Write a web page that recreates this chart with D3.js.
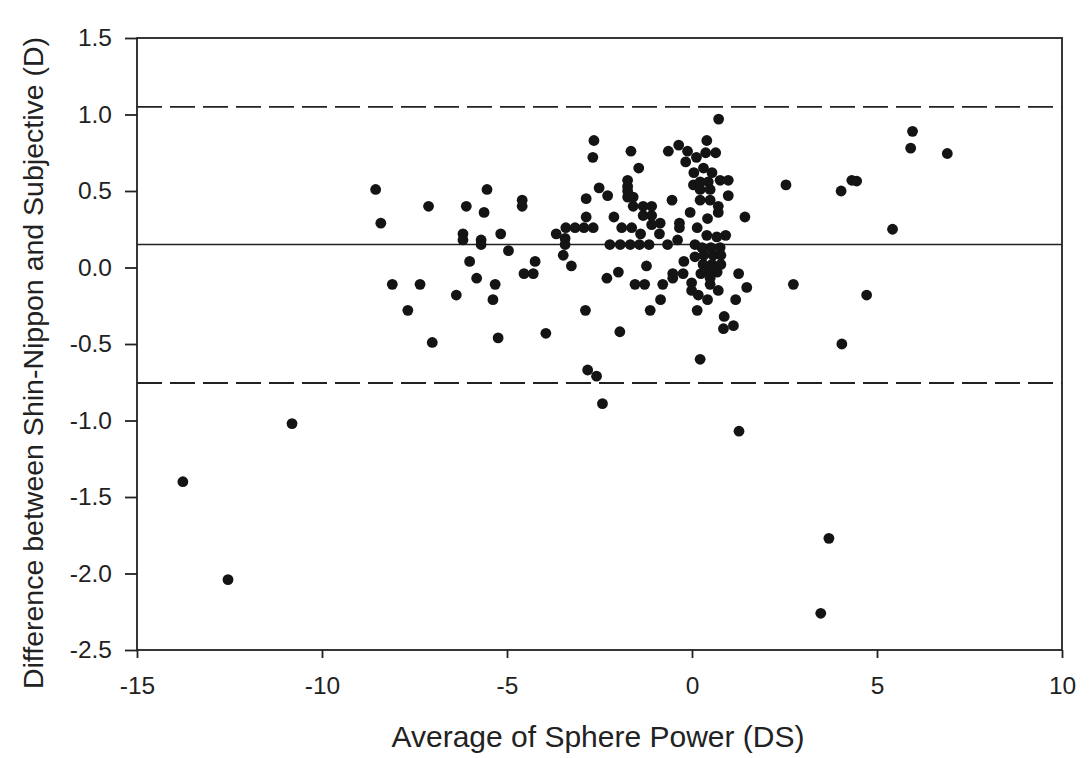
<!DOCTYPE html>
<html>
<head>
<meta charset="utf-8">
<script src="https://cdn.jsdelivr.net/npm/d3@7"></script>
<style>
  body { margin: 0; background: #fff; }
  svg text { font-family: "Liberation Sans", Arial, sans-serif; fill: #222; }
</style>
</head>
<body>
<div id="chart"></div>
<script>
// DATA
var avgSphere = [
  -13.76,-12.54,-10.81,
  -8.55,-8.41,-8.10,-7.35,-7.68,-7.12,-7.02,-6.37,-6.10,-6.19,
  -6.19,-6.01,-5.82,-5.54,-5.62,-5.70,-5.70,-5.32,-5.38,-5.24,
  -5.17,-4.96,-4.59,-4.59,-4.54,-4.29,-4.24,-3.95,-3.67,-3.41,
  -3.16,-2.92,-2.67,-3.43,-3.43,-3.48,-3.26,-2.86,-2.86,-2.88,
  -2.82,-2.58,-2.42,
  -2.65,-2.68,-2.51,-2.28,-2.11,-1.90,-2.22,-1.94,-1.99,-2.30,-1.95,
  -1.65,-0.64,-0.36,-0.12,0.12,-0.17,-1.44,0.05,-1.74,-1.74,
  -1.74,-1.74,-1.59,-1.59,0.04,-0.54,-1.32,-1.09,-1.32,-1.09,
  -0.05,-1.09,-0.86,-0.34,-0.34,-1.63,-1.39,-0.88,0.14,-0.39,
  -1.67,-1.42,-1.16,-0.66,0.08,0.08,-0.22,-1.23,
  -1.54,-1.28,-0.79,-0.52,-0.52,-0.24,-0.01,-0.01,0.17,-0.85,-1.13,0.14,0.22,
  0.72,0.40,0.37,0.64,0.31,0.54,0.22,0.44,0.76,0.98,
  0.22,0.49,0.98,0.22,0.49,0.71,0.71,0.42,1.43,0.40,0.67,0.91,
  0.27,0.51,0.76,0.32,0.57,0.78,0.30,0.54,0.78,0.68,0.46,
  0.24,0.49,0.49,0.71,0.42,1.26,1.48,1.18,0.87,0.85,1.12,
  5.96,5.91,6.90,2.54,4.03,4.32,4.45,5.42,2.74,4.72,4.05,1.27,3.70,3.48
];
var diffD = [
  -1.40,-2.04,-1.02,
  0.51,0.29,-0.11,-0.11,-0.28,0.40,-0.49,-0.18,0.40,0.22,
  0.18,0.04,-0.07,0.51,0.36,0.18,0.15,-0.11,-0.21,-0.46,
  0.22,0.11,0.44,0.40,-0.04,-0.04,0.04,-0.43,0.22,0.26,
  0.26,0.26,0.26,0.19,0.15,0.08,0.01,0.45,0.33,-0.28,
  -0.67,-0.71,-0.89,
  0.83,0.72,0.52,0.47,0.33,0.26,0.15,0.15,-0.03,-0.07,-0.42,
  0.76,0.76,0.80,0.76,0.72,0.69,0.65,0.62,0.57,0.53,
  0.50,0.46,0.46,0.40,0.54,0.44,0.40,0.40,0.34,0.34,
  0.36,0.28,0.29,0.29,0.26,0.26,0.22,0.22,0.26,0.18,
  0.15,0.15,0.15,0.15,0.15,0.07,0.04,0.01,
  -0.11,-0.11,-0.11,-0.04,-0.07,-0.04,-0.10,-0.15,-0.18,-0.21,-0.28,-0.28,-0.60,
  0.97,0.83,0.75,0.75,0.65,0.62,0.56,0.56,0.57,0.57,
  0.51,0.51,0.47,0.44,0.44,0.40,0.36,0.32,0.33,0.21,0.20,0.21,
  0.13,0.13,0.13,0.08,0.08,0.08,0.02,0.02,0.02,-0.03,-0.03,
  -0.04,-0.07,-0.11,-0.15,-0.21,-0.04,-0.13,-0.21,-0.32,-0.40,-0.38,
  0.89,0.78,0.745,0.54,0.50,0.57,0.565,0.25,-0.11,-0.18,-0.50,-1.07,-1.77,-2.26
];
var xTicks = [-15, -10, -5, 0, 5, 10];
var yTicks = [1.5, 1.0, 0.5, 0.0, -0.5, -1.0, -1.5, -2.0, -2.5];
var meanDiff = 0.15;
var limits = [1.05, -0.755];

var X_TITLE = "Average of Sphere Power (DS)";
var Y_TITLE = "Difference between Shin-Nippon and Subjective (D)";

// LAYOUT
var width = 1092, height = 758;
var plotL = 137, plotR = 1062, plotT = 38, plotB = 650;

var svg = d3.select("#chart").append("svg")
  .attr("width", width).attr("height", height);

var xScale = d3.scaleLinear().domain([-15, 10]).range([plotL, plotR]);
var yScale = d3.scaleLinear().domain([-2.5, 1.5]).range([plotB, plotT]);

// plain hyphen for negatives, like the original
function fmt(f) {
  return function(d) { return d3.format(f)(d).replace("\u2212", "-"); };
}

// mean + limits of agreement
svg.append("line")
  .attr("x1", plotL).attr("x2", plotR)
  .attr("y1", yScale(meanDiff)).attr("y2", yScale(meanDiff))
  .attr("stroke", "#222").attr("stroke-width", 1.6);

svg.selectAll(".loa").data(limits).enter().append("line")
  .attr("class", "loa")
  .attr("x1", plotL).attr("x2", plotR)
  .attr("y1", function(d) { return yScale(d); })
  .attr("y2", function(d) { return yScale(d); })
  .attr("stroke", "#222").attr("stroke-width", 1.8)
  .attr("stroke-dasharray", "25,8");

// points
var pts = d3.zip(avgSphere, diffD);
svg.selectAll(".dot").data(pts).enter().append("circle")
  .attr("class", "dot")
  .attr("cx", function(d) { return xScale(d[0]); })
  .attr("cy", function(d) { return yScale(d[1]); })
  .attr("r", 5.4)
  .attr("fill", "#141414");

// frame
svg.append("rect")
  .attr("x", plotL).attr("y", plotT)
  .attr("width", plotR - plotL).attr("height", plotB - plotT)
  .attr("fill", "none").attr("stroke", "#222").attr("stroke-width", 1.8);

// axes
var xAxis = d3.axisBottom(xScale).tickValues(xTicks).tickSize(8).tickSizeOuter(0)
  .tickPadding(19).tickFormat(fmt("d"));
var yAxis = d3.axisLeft(yScale).tickValues(yTicks).tickSize(12).tickSizeOuter(0)
  .tickPadding(13).tickFormat(fmt(".1f"));

var gx = svg.append("g").attr("transform", "translate(0," + plotB + ")").call(xAxis);
var gy = svg.append("g").attr("transform", "translate(" + plotL + ",0)").call(yAxis);

[gx, gy].forEach(function(g) {
  g.attr("font-size", null).attr("font-family", null);
  g.select(".domain").remove();
  g.selectAll(".tick line").attr("stroke", "#222").attr("stroke-width", 1.8);
  g.selectAll(".tick text").style("font-size", "24.5px").attr("fill", "#222");
});

// titles
svg.append("text")
  .attr("x", 598).attr("y", 747)
  .attr("text-anchor", "middle")
  .style("font-size", "30px")
  .text(X_TITLE);

svg.append("text")
  .attr("transform", "translate(43,363) rotate(-90)")
  .attr("text-anchor", "middle")
  .style("font-size", "28.5px")
  .text(Y_TITLE);
</script>
</body>
</html>
